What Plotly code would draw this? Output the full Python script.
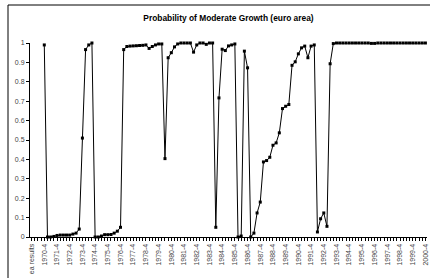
import plotly.graph_objects as go

# Categories: first label row, then quarters 1970-1 .. 2000-4
categories = ["ea results"] + [f"{y}-{q}" for y in range(1970, 2001) for q in range(1, 5)]

# Probability of moderate growth (euro area), one value per category (None = blank)
prob = [
    None, None, None, None, 0.99, 0.0, 0.0, 0.003, 0.008, 0.01,          # 0-9
    0.01, 0.01, 0.01, 0.015, 0.02, 0.041, 0.51, 0.966, 0.99, 1.0,        # 10-19
    0.0, 0.0, 0.005, 0.012, 0.012, 0.013, 0.02, 0.03, 0.05, 0.966,       # 20-29
    0.982, 0.984, 0.985, 0.986, 0.987, 0.988, 0.99, 0.972, 0.982, 0.99,  # 30-39
    0.995, 0.995, 0.404, 0.924, 0.95, 0.98, 0.995, 1.0, 1.0, 1.0,        # 40-49
    1.0, 0.953, 0.99, 1.0, 1.0, 0.993, 1.0, 1.0, 0.05, 0.717,            # 50-59
    0.968, 0.961, 0.985, 0.99, 0.995, 0.0, 0.005, 0.958, 0.872, 0.0,     # 60-69
    0.02, 0.124, 0.18, 0.387, 0.394, 0.411, 0.473, 0.485, 0.537, 0.662,  # 70-79
    0.674, 0.683, 0.885, 0.903, 0.944, 0.975, 0.984, 0.924, 0.984, 0.99, # 80-89
    0.026, 0.094, 0.124, 0.055, 0.893, 0.997, 1.0, 1.0, 1.0, 1.0,        # 90-99
    1.0, 1.0, 1.0, 1.0, 1.0, 1.0, 1.0, 0.998, 0.998, 1.0,                # 100-109
    1.0, 1.0, 1.0, 1.0, 1.0, 1.0, 1.0, 1.0, 1.0, 1.0,                    # 110-119
    1.0, 1.0, 1.0, 1.0, 1.0,                                             # 120-124
]

title_text = "Probability of Moderate Growth (euro area)"

idx = list(range(len(categories)))
label_idx = idx[::4]
label_text = [categories[i] for i in label_idx]

FONT = "Arial, 'Liberation Sans', sans-serif"
PW = 430 - 30 - 3  # plot width in px

fig = go.Figure()
fig.add_trace(go.Scatter(
    x=idx, y=prob, mode="lines+markers",
    line=dict(color="black", width=1),
    marker=dict(symbol="square", size=3, color="black"),
    connectgaps=False, cliponaxis=False, showlegend=False,
    hoverinfo="skip",
))

fig.update_layout(
    width=430, height=278,
    margin=dict(l=30, r=3, t=43, b=41, autoexpand=False),
    paper_bgcolor="white", plot_bgcolor="white",
    font=dict(family=FONT, size=7, color="#333"),
    title=dict(text=f"<b>{title_text}</b>", x=(228.5 - 30) / PW, xref="paper",
               xanchor="center",
               y=1 - 18 / 278, yref="container", yanchor="middle",
               font=dict(family=FONT, size=8.4, color="black")),
    xaxis=dict(
        range=[-0.5, len(categories) - 0.5],
        tickmode="array", tickvals=label_idx, ticktext=label_text,
        tickangle=-90, ticks="outside", ticklen=3, tickcolor="black",
        showgrid=False, zeroline=False, automargin=False,
        ticklabeloverflow="allow",
        showline=True, linecolor="black", linewidth=1,
        tickfont=dict(size=7, color="#444"),
        minor=dict(ticks="outside", ticklen=3, dtick=1, tick0=0,
                   tickcolor="black", showgrid=False),
    ),
    yaxis=dict(
        range=[0, 1], dtick=0.1, tick0=0,
        ticks="outside", ticklen=3, tickcolor="black",
        showgrid=False, zeroline=False, automargin=False,
        ticklabeloverflow="allow",
        showline=True, linecolor="black", linewidth=1,
        tickfont=dict(size=7, color="#444"),
    ),
    shapes=[
        dict(type="line", xref="paper", yref="paper",
             x0=(8 - 30) / PW, x1=(8 - 30) / PW, y0=-0.3, y1=(237 - 5) / 194,
             line=dict(color="black", width=1)),
        dict(type="line", xref="paper", yref="paper",
             x0=(8 - 30) / PW, x1=1.1, y0=(237 - 5) / 194, y1=(237 - 5) / 194,
             line=dict(color="black", width=1)),
    ],
)

fig.write_html(
    "out.html",
    config={"displayModeBar": False, "staticPlot": True},
    post_script="document.body.style.margin='0px';document.body.style.overflow='hidden';",
)
